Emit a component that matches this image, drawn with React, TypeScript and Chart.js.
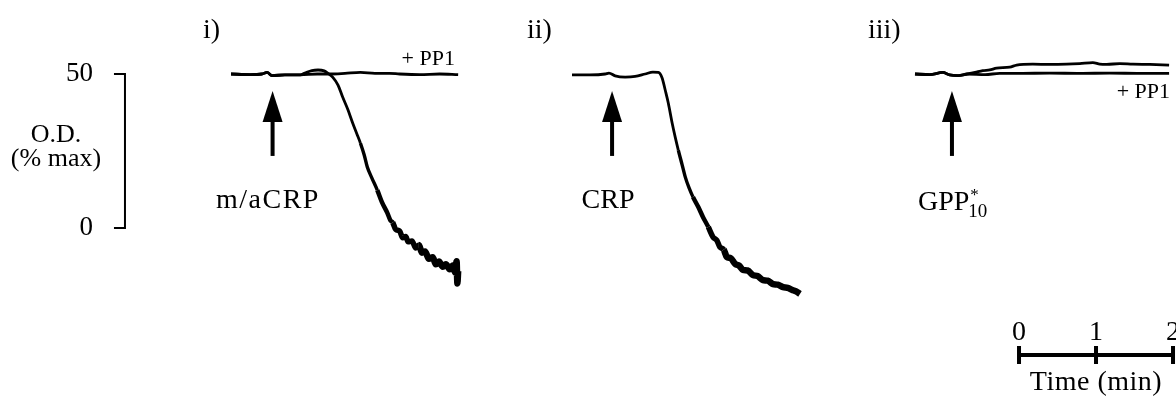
import React, { useEffect, useRef } from "react";
import { Chart, registerables } from "chart.js";

Chart.register(...registerables);

// ---------- data (time in min from trace start, O.D. in % max) ----------
const PP1_I_T = [0, 0.25, 0.4, 0.47, 0.53, 0.7, 0.9, 1.12, 1.29, 1.48, 1.68, 1.87, 2.06, 2.19, 2.45, 2.71, 2.95];
const PP1_I_V = [50, 49.8, 50, 50.5, 49.5, 49.7, 49.7, 50, 50, 50.2, 50.5, 50.2, 50.2, 50, 49.8, 50, 49.8];

const MCRP_T = [0, 0.25, 0.4, 0.47, 0.53, 0.7, 0.9, 0.96, 1.05, 1.13, 1.21, 1.26, 1.32, 1.39, 1.45, 1.52, 1.58, 1.64, 1.68, 1.73, 1.77, 1.83, 1.9, 1.96, 2.03, 2.07, 2.1, 2.14, 2.19, 2.23, 2.27, 2.3, 2.35, 2.4, 2.44, 2.48, 2.52, 2.57, 2.62, 2.66, 2.7, 2.75, 2.79, 2.84, 2.88, 2.91, 2.93, 2.94, 2.95];
const MCRP_V = [50, 49.8, 50, 50.5, 49.5, 49.7, 49.7, 50.3, 51.1, 51.3, 51, 50.2, 49, 46.4, 42.5, 38.3, 34.1, 30.2, 27.6, 23.7, 19.8, 16.2, 12.3, 8.4, 4.9, 2.5, 1.8, -0.5, -1, -3.2, -2.8, -4.5, -4.2, -6.5, -5.5, -8, -7.6, -10, -9.5, -11.8, -10.9, -12.6, -11.8, -13.4, -12.2, -14.5, -10.8, -18, -14];

const CRP_T = [0, 0.23, 0.43, 0.48, 0.56, 0.69, 0.82, 0.95, 1.05, 1.12, 1.17, 1.21, 1.25, 1.3, 1.34, 1.38, 1.43, 1.47, 1.52, 1.57, 1.64, 1.7, 1.77, 1.83, 1.88, 1.92, 1.97, 2.01, 2.06, 2.12, 2.17, 2.22, 2.28, 2.35, 2.41, 2.48, 2.54, 2.61, 2.67, 2.74, 2.8, 2.86, 2.91, 2.96];
const CRP_V = [49.7, 49.7, 50, 50.3, 49.4, 49, 49.2, 50, 50.6, 50.5, 48.7, 44.8, 40.6, 34.1, 29.5, 25.3, 20.5, 16.6, 13, 10.1, 6.8, 3.6, 0.3, -2.9, -4, -6.2, -7, -9.4, -9.8, -11.7, -12.2, -13.6, -13.8, -15.3, -15.6, -16.9, -17.1, -18.2, -18.4, -19.2, -19.4, -20.1, -20.6, -21.4];

const GPP_T = [0, 0.19, 0.36, 0.45, 0.56, 0.68, 0.78, 0.88, 0.97, 1.06, 1.23, 1.32, 1.53, 1.75, 1.97, 2.14, 2.31, 2.4, 2.49, 2.66, 2.83, 3.05, 3.3];
const GPP_V = [50, 49.8, 50.5, 49.7, 49.5, 50, 50.5, 51.1, 51.3, 51.9, 52.2, 52.9, 53.2, 53.1, 53.2, 53.4, 53.7, 53.2, 53.1, 53.4, 53.2, 53.1, 52.9];

const PP1_III_T = [0, 0.19, 0.36, 0.45, 0.56, 0.68, 0.91, 1.1, 1.36, 1.75, 2.14, 2.53, 2.92, 3.3];
const PP1_III_V = [50, 49.8, 50.5, 49.7, 49.5, 50, 49.8, 50.2, 50.2, 50.3, 50.2, 50.3, 50.2, 50.2];

const Y_TICKS = [0, 50];
const TIME_TICKS = [0, 1, 2];
const PANEL_LABELS = ["i)", "ii)", "iii)"];
const AGONIST_LABELS = ["m/aCRP", "CRP", "GPP"];
const PP1_LABEL = "+ PP1";
const Y_TITLE = ["O.D.", "(% max)"];
const X_TITLE = "Time (min)";

// ---------- layout (in axis units: minutes / % max) ----------
const PX_PER_MIN = 77;
const PX_PER_PCT = 3.08;
const W = 1176;
const H = 405;
const X_MAX = W / PX_PER_MIN;
const Y_MAX = 50 + 74 / PX_PER_PCT;
const Y_MIN = 50 - (H - 74) / PX_PER_PCT;
const PANEL_START = [3.0, 7.429, 11.883];
const PANEL_LABEL_X = [2.636, 6.844, 11.273];
const ARROW_T = [0.54, 0.52, 0.48];
const Y_BAR_AT = 1.623;
const TIME_BAR_AT = 13.234;
const TIME_BAR_Y = -41.2;

const pts = (t: number[], v: number[], off: number) => t.map((x, i) => ({ x: x + off, y: v[i] }));

const SERIF = "'Liberation Serif', 'DejaVu Serif', serif";

const annotate = {
  id: "annotate",
  afterDatasetsDraw(chart: any) {
    const { ctx } = chart;
    const X = (v: number) => chart.scales.x.getPixelForValue(v);
    const Y = (v: number) => chart.scales.y.getPixelForValue(v);
    ctx.save();
    ctx.fillStyle = "#000";
    ctx.strokeStyle = "#000";
    ctx.lineCap = "butt";

    // vertical O.D. scale bar
    const bx = X(Y_BAR_AT);
    ctx.lineWidth = 2;
    ctx.beginPath();
    ctx.moveTo(bx, Y(Y_TICKS[0]) + 1);
    ctx.lineTo(bx, Y(Y_TICKS[Y_TICKS.length - 1]) - 1);
    Y_TICKS.forEach((t) => {
      ctx.moveTo(bx - 11, Y(t));
      ctx.lineTo(bx + 1, Y(t));
    });
    ctx.stroke();
    ctx.font = `27px ${SERIF}`;
    ctx.textAlign = "right";
    ctx.textBaseline = "middle";
    Y_TICKS.forEach((t) => ctx.fillText(String(t), bx - 32, Y(t)));
    ctx.textAlign = "center";
    ctx.font = `26px ${SERIF}`;
    ctx.fillText(Y_TITLE[0], X(0.727), Y(30.2));
    ctx.fillText(Y_TITLE[1], X(0.727), Y(22.2));

    // time scale bar
    const ty = Y(TIME_BAR_Y);
    const x0 = X(TIME_BAR_AT + TIME_TICKS[0]);
    const x1 = X(TIME_BAR_AT + TIME_TICKS[TIME_TICKS.length - 1]);
    ctx.lineWidth = 4;
    ctx.beginPath();
    ctx.moveTo(x0, ty);
    ctx.lineTo(x1, ty);
    TIME_TICKS.forEach((t) => {
      const xx = X(TIME_BAR_AT + t);
      ctx.moveTo(xx, ty - 9);
      ctx.lineTo(xx, ty + 9);
    });
    ctx.stroke();
    ctx.font = `28px ${SERIF}`;
    TIME_TICKS.forEach((t) => ctx.fillText(String(t), X(TIME_BAR_AT + t), Y(-34.1)));
    ctx.letterSpacing = "0.5px";
    ctx.fillText(X_TITLE, (x0 + x1) / 2, Y(-50.2));
    ctx.letterSpacing = "0px";

    // panel labels
    ctx.textAlign = "left";
    PANEL_LABELS.forEach((l, i) => ctx.fillText(l, X(PANEL_LABEL_X[i]), Y(64.2)));

    // arrows
    PANEL_START.forEach((s, i) => {
      const ax = X(s + ARROW_T[i]);
      const tip = Y(44.5);
      const base = Y(34.4);
      const bot = Y(23.4);
      ctx.beginPath();
      ctx.moveTo(ax, tip);
      ctx.lineTo(ax - 10, base);
      ctx.lineTo(ax + 10, base);
      ctx.closePath();
      ctx.fill();
      ctx.fillRect(ax - 2, base - 1, 4, bot - base + 1);
    });

    // agonist labels
    ctx.textAlign = "center";
    ctx.letterSpacing = "1.5px";
    ctx.fillText(AGONIST_LABELS[0], X(3.48), Y(9.0));
    ctx.letterSpacing = "0px";
    ctx.fillText(AGONIST_LABELS[1], X(7.896), Y(9.0));
    ctx.textAlign = "left";
    ctx.textBaseline = "alphabetic";
    const gx = X(11.922);
    const gy = Y(5.84);
    ctx.fillText(AGONIST_LABELS[2], gx, gy);
    const gw = ctx.measureText(AGONIST_LABELS[2]).width;
    ctx.font = `17px ${SERIF}`;
    ctx.fillText("*", gx + gw + 1, gy - 10);
    ctx.font = `19px ${SERIF}`;
    ctx.fillText("10", gx + gw - 1, gy + 7);

    // + PP1 labels
    ctx.font = `22px ${SERIF}`;
    ctx.textAlign = "right";
    ctx.textBaseline = "middle";
    ctx.fillText(PP1_LABEL, X(5.909), Y(54.7));
    ctx.fillText(PP1_LABEL, X(15.195), Y(44.0));
    ctx.restore();
  },
};

const tailWidth = (c: any) => {
  const v = Math.min(c.p0.parsed.y, c.p1.parsed.y);
  if (v > 25) return 2.8;
  if (v > 10) return 3.4;
  if (v > 0) return 4.5;
  if (v > -8) return 5.5;
  return 6.5;
};

export default function App() {
  const ref = useRef<HTMLCanvasElement>(null);
  useEffect(() => {
    if (!ref.current) return;
    const base = {
      showLine: true,
      borderColor: "#000",
      borderWidth: 2.8,
      pointRadius: 0,
      cubicInterpolationMode: "monotone" as const,
      fill: false,
    };
    const chart = new Chart(ref.current, {
      type: "scatter",
      data: {
        datasets: [
          { ...base, label: "m/aCRP + PP1", data: pts(PP1_I_T, PP1_I_V, PANEL_START[0]) },
          { ...base, label: "m/aCRP", data: pts(MCRP_T, MCRP_V, PANEL_START[0]), segment: { borderWidth: tailWidth } },
          { ...base, label: "CRP", data: pts(CRP_T, CRP_V, PANEL_START[1]), segment: { borderWidth: tailWidth } },
          { ...base, label: "GPP*10", data: pts(GPP_T, GPP_V, PANEL_START[2]) },
          { ...base, label: "GPP*10 + PP1", data: pts(PP1_III_T, PP1_III_V, PANEL_START[2]) },
        ],
      },
      options: {
        animation: false,
        responsive: true,
        maintainAspectRatio: false,
        layout: { padding: 0 },
        plugins: { legend: { display: false }, tooltip: { enabled: false }, title: { display: false } },
        scales: {
          x: { type: "linear", min: 0, max: X_MAX, display: false },
          y: { type: "linear", min: Y_MIN, max: Y_MAX, display: false },
        },
      },
      plugins: [annotate],
    });
    return () => chart.destroy();
  }, []);
  return (
    <div style={{ position: "fixed", left: 0, top: 0, width: W, height: H, background: "#fff" }}>
      <canvas ref={ref} />
    </div>
  );
}
